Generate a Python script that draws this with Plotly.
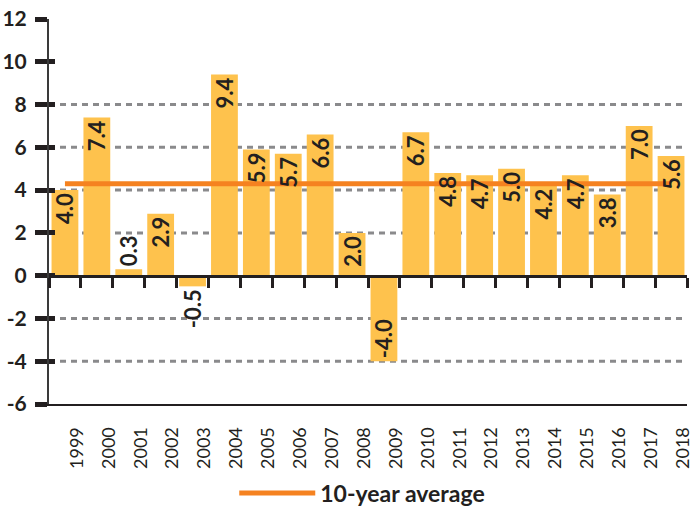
import plotly.graph_objects as go

years = ["1999", "2000", "2001", "2002", "2003", "2004", "2005", "2006", "2007", "2008",
         "2009", "2010", "2011", "2012", "2013", "2014", "2015", "2016", "2017", "2018"]
growth = [4.0, 7.4, 0.3, 2.9, -0.5, 9.4, 5.9, 5.7, 6.6, 2.0,
          -4.0, 6.7, 4.8, 4.7, 5.0, 4.2, 4.7, 3.8, 7.0, 5.6]
average_value = 4.3
average_name = "10-year average"
y_ticks = [-6, -4, -2, 0, 2, 4, 6, 8, 10, 12]
y_tick_labels = ["-6", "-4", "-2", "0", "2", "4", "6", "8", "10", "12"]
grid_levels = [-4, -2, 2, 4, 6, 8]

BAR = "#FEC24D"
LINE = "#F58220"
INK = "#231F20"
GRID = "#8A8A8C"
FONT = "Lato"

Y_RANGE = [-6, 12]

text_pos = ["outside" if abs(v) < 1 else "inside" for v in growth]

fig = go.Figure()

# visible bars
fig.add_trace(go.Bar(
    x=years, y=growth,
    marker=dict(color=BAR, line=dict(width=0)),
    showlegend=False,
    hoverinfo="x+y",
))

fig.add_trace(go.Scatter(
    x=[years[0], years[-1]], y=[average_value, average_value],
    mode="lines", name=average_name,
    line=dict(color=LINE, width=5),
    hoverinfo="skip",
))

# overlay layer: value labels (drawn above the average line) + zero-line ticks
fig.add_trace(go.Bar(
    x=years, y=growth, xaxis="x2", yaxis="y2",
    marker=dict(color="rgba(0,0,0,0)", line=dict(width=0)),
    text=[f"{v:.1f}" for v in growth],
    textposition=text_pos,
    insidetextanchor="end",
    textangle=-90,
    constraintext="none",
    textfont=dict(family=FONT, size=22, color=INK, weight="bold"),
    cliponaxis=False,
    showlegend=False, hoverinfo="skip",
))

for g in grid_levels:
    fig.add_hline(y=g, line=dict(color=GRID, width=3, dash="6px,5px"), layer="below")

fig.update_layout(
    width=694, height=506,
    margin=dict(l=49, r=7, t=19, b=102, autoexpand=False),
    paper_bgcolor="white", plot_bgcolor="white",
    bargap=0.16,
    font=dict(family=FONT, color=INK),
    showlegend=True,
    legend=dict(
        orientation="h", x=0.491, xanchor="center", y=-0.231, yanchor="middle",
        font=dict(family=FONT, size=23, color=INK, weight="bold"),
        itemwidth=76,
        bgcolor="rgba(0,0,0,0)",
    ),
    xaxis=dict(
        type="category", automargin=False,
        showgrid=False, zeroline=False,
        showline=True, linecolor=INK, linewidth=2,
        ticks="", tickangle=-90,
        ticklabelshift=12, ticklabelstandoff=14,
        tickfont=dict(family=FONT, size=18, color=INK),
    ),
    xaxis2=dict(
        type="category", overlaying="x", anchor="free", automargin=False,
        position=(0 - Y_RANGE[0]) / (Y_RANGE[1] - Y_RANGE[0]),
        showgrid=False, zeroline=False,
        showline=True, linecolor=INK, linewidth=3,
        ticks="outside", tickson="boundaries", ticklen=10, tickwidth=3, tickcolor=INK,
        showticklabels=False,
    ),
    yaxis=dict(
        range=Y_RANGE, tickvals=y_ticks, ticktext=y_tick_labels, automargin=False,
        showgrid=False, zeroline=False,
        showline=True, linecolor="#3A3A3A", linewidth=2,
        ticks="outside", ticklen=12, tickwidth=5, tickcolor=INK,
        tickfont=dict(family=FONT, size=21, color=INK, weight="bold"),
        ticklabelstandoff=4,
    ),
    yaxis2=dict(
        range=Y_RANGE, tickvals=y_ticks, overlaying="y", anchor="x", side="left",
        automargin=False,
        showgrid=False, zeroline=False, showline=False,
        ticks="inside", ticklen=6, tickwidth=5, tickcolor=INK,
        showticklabels=False,
    ),
)

fig.write_html(
    "out.html",
    config={"displayModeBar": False},
    post_script="document.body.style.margin='0';document.body.style.overflow='hidden';",
)
